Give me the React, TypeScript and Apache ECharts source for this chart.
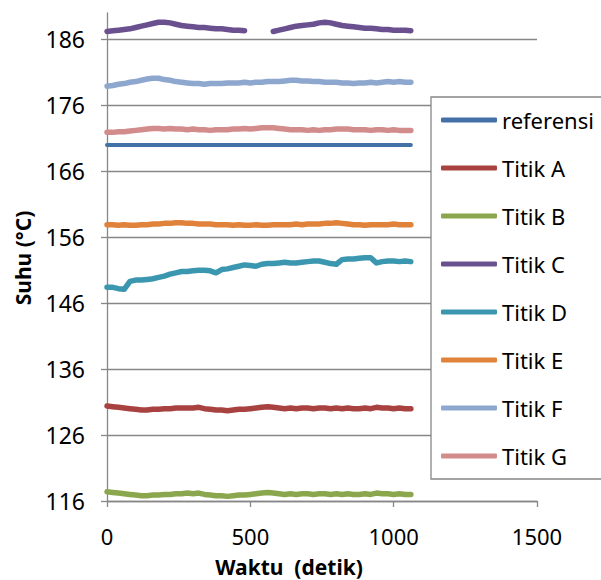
import React, { useEffect, useRef } from "react";
import * as echarts from "echarts";

const time = [
  0, 20, 40, 60, 80, 100, 120, 140, 160, 180, 200, 220, 240, 260, 280, 300, 320, 340,
  360, 380, 400, 420, 440, 460, 480, 500, 520, 540, 560, 580, 600, 620, 640, 660, 680,
  700, 720, 740, 760, 780, 800, 820, 840, 860, 880, 900, 920, 940, 960, 980, 1000, 1020,
  1040, 1060,
];

const refTime = [0, 1060];
const referensi = [170, 170];

const titikA = [
  130.4, 130.3, 130.2, 130.1, 130.0, 129.9, 129.8, 129.8, 129.9, 129.9, 130.0, 130.0, 130.1,
  130.1, 130.1, 130.1, 130.2, 130.0, 129.9, 129.8, 129.8, 129.7, 129.8, 129.9, 129.9, 130.0,
  130.1, 130.2, 130.3, 130.2, 130.1, 130.0, 130.1, 130.0, 130.1, 130.1, 130.0, 130.1, 130.1,
  130.0, 130.1, 130.0, 130.1, 130.0, 130.0, 130.1, 130.0, 130.2, 130.1, 130.1, 130.0, 130.1,
  130.0, 130.0,
];

const titikB = [
  117.4, 117.3, 117.2, 117.1, 117.0, 116.9, 116.8, 116.8, 116.9, 116.9, 117.0, 117.0, 117.1,
  117.1, 117.2, 117.1, 117.2, 117.0, 116.9, 116.8, 116.8, 116.7, 116.8, 116.9, 116.9, 117.0,
  117.1, 117.2, 117.3, 117.2, 117.1, 117.0, 117.1, 117.0, 117.1, 117.1, 117.0, 117.1, 117.1,
  117.0, 117.1, 117.0, 117.1, 117.0, 117.0, 117.1, 117.0, 117.2, 117.1, 117.1, 117.0, 117.1,
  117.0, 117.0,
];

const titikC = [
  187.2, 187.3, 187.4, 187.5, 187.6, 187.8, 188.0, 188.2, 188.4, 188.6, 188.6, 188.5, 188.3,
  188.1, 188.0, 187.9, 187.8, 187.8, 187.7, 187.6, 187.6, 187.5, 187.4, 187.4, 187.3, null,
  null, null, null, 187.2, 187.4, 187.6, 187.8, 188.0, 188.1, 188.2, 188.3, 188.5, 188.6,
  188.5, 188.3, 188.1, 188.0, 187.9, 187.8, 187.7, 187.7, 187.6, 187.5, 187.5, 187.4, 187.4,
  187.4, 187.3,
];

const titikD = [
  148.4, 148.4, 148.2, 148.1, 149.3, 149.5, 149.5, 149.6, 149.7, 149.9, 150.1, 150.4, 150.6,
  150.8, 150.8, 150.9, 151.0, 151.0, 150.9, 150.6, 151.1, 151.2, 151.4, 151.6, 151.8, 151.7,
  151.6, 151.9, 152.0, 152.0, 152.1, 152.2, 152.1, 152.1, 152.2, 152.3, 152.4, 152.4, 152.2,
  152.0, 151.9, 152.6, 152.7, 152.7, 152.8, 152.9, 152.9, 152.1, 152.3, 152.4, 152.4, 152.3,
  152.4, 152.3,
];

const titikE = [
  157.9, 157.9, 157.8, 157.9, 157.8, 157.8, 157.9, 157.9, 158.0, 158.0, 158.1, 158.1, 158.2,
  158.2, 158.1, 158.1, 158.0, 158.0, 158.0, 157.9, 157.9, 157.9, 157.8, 157.9, 157.8, 157.8,
  157.9, 157.8, 157.8, 157.9, 157.9, 157.9, 157.9, 158.0, 157.9, 158.0, 158.0, 158.0, 158.1,
  158.1, 158.2, 158.1, 158.0, 157.9, 157.9, 157.8, 157.9, 157.9, 157.9, 157.9, 158.0, 157.9,
  157.9, 157.9,
];

const titikF = [
  178.9, 179.0, 179.2, 179.3, 179.5, 179.6, 179.8, 180.0, 180.1, 180.1, 179.9, 179.8, 179.6,
  179.5, 179.4, 179.3, 179.3, 179.2, 179.3, 179.3, 179.3, 179.4, 179.4, 179.4, 179.5, 179.4,
  179.5, 179.5, 179.6, 179.6, 179.6, 179.7, 179.8, 179.8, 179.7, 179.7, 179.6, 179.6, 179.5,
  179.5, 179.5, 179.4, 179.4, 179.3, 179.4, 179.4, 179.5, 179.4, 179.5, 179.6, 179.5, 179.6,
  179.5, 179.5,
];

const titikG = [
  171.9, 171.9, 172.0, 172.0, 172.1, 172.2, 172.3, 172.4, 172.5, 172.5, 172.4, 172.5, 172.4,
  172.4, 172.3, 172.4, 172.3, 172.3, 172.2, 172.3, 172.3, 172.3, 172.4, 172.4, 172.5, 172.4,
  172.5, 172.6, 172.6, 172.6, 172.5, 172.4, 172.3, 172.3, 172.3, 172.2, 172.3, 172.2, 172.3,
  172.3, 172.4, 172.4, 172.4, 172.3, 172.3, 172.3, 172.2, 172.3, 172.3, 172.2, 172.3, 172.2,
  172.2, 172.2,
];

const yTicks = [116, 126, 136, 146, 156, 166, 176, 186];

const seriesNames = ["referensi", "Titik A", "Titik B", "Titik C", "Titik D", "Titik E", "Titik F", "Titik G"];
const seriesColors = ["#4470A8", "#A84240", "#8AA74E", "#6B5090", "#3B97B0", "#E0823A", "#8EA7CE", "#D28C8B"];

const FONT = "'Noto Sans', sans-serif";
const AXIS_COLOR = "#878787";

export default function App() {
  const ref = useRef<HTMLDivElement>(null);

  useEffect(() => {
    if (!ref.current) return;
    const chart = echarts.init(ref.current, null, { renderer: "svg" });

    const pair = (xs: number[], ys: (number | null)[]) => xs.map((x, i) => [x, ys[i]]);
    const datasets = [
      pair(refTime, referensi),
      pair(time, titikA),
      pair(time, titikB),
      pair(time, titikC),
      pair(time, titikD),
      pair(time, titikE),
      pair(time, titikF),
      pair(time, titikG),
    ];

    chart.setOption({
      animation: false,
      backgroundColor: "#ffffff",
      textStyle: { fontFamily: FONT },
      grid: { left: 107, right: 64, top: 13, bottom: 79, containLabel: false },
      xAxis: {
        type: "value",
        min: 0,
        max: 1500,
        interval: 500,
        axisLine: { show: true, lineStyle: { color: AXIS_COLOR, width: 1.3 } },
        axisTick: { show: true, length: 6, lineStyle: { color: AXIS_COLOR, width: 1.3 } },
        axisLabel: {
          color: "#000",
          fontSize: 22,
          fontFamily: FONT,
          margin: 24,
          formatter: (v: number) => String(v),
        },
        splitLine: { show: false },
      },
      yAxis: {
        type: "value",
        min: 116,
        max: 190,
        axisLine: { show: true, lineStyle: { color: AXIS_COLOR, width: 1.3 } },
        axisTick: {
          show: true,
          length: 6,
          customValues: yTicks,
          lineStyle: { color: AXIS_COLOR, width: 1.3 },
        },
        axisLabel: {
          color: "#000",
          fontSize: 23,
          fontFamily: FONT,
          margin: 22,
          customValues: yTicks,
        },
        splitLine: { show: true, lineStyle: { color: AXIS_COLOR, width: 1.3 } },
      },
      legend: {
        orient: "vertical",
        left: 431,
        top: 97,
        data: seriesNames,
        icon: "roundRect",
        itemWidth: 56,
        itemHeight: 5,
        itemGap: 22,
        padding: [10, 30, 10, 10],
        backgroundColor: "#ffffff",
        borderColor: AXIS_COLOR,
        borderWidth: 1.3,
        borderRadius: 0,
        textStyle: { color: "#000", fontSize: 22, fontFamily: FONT, lineHeight: 26 },
        z: 10,
      },
      graphic: [
        {
          type: "text",
          x: 23,
          y: 258,
          rotation: Math.PI / 2,
          style: {
            text: "Suhu (°C)",
            fill: "#000",
            font: `bold 21px ${FONT}`,
            align: "center",
            verticalAlign: "middle",
          },
        },
        {
          type: "text",
          x: 289,
          y: 567,
          style: {
            text: "Waktu  (detik)",
            fill: "#000",
            font: `bold 21px ${FONT}`,
            align: "center",
            verticalAlign: "middle",
          },
        },
      ],
      series: seriesNames.map((name, i) => ({
        name,
        type: "line",
        data: datasets[i],
        showSymbol: false,
        symbol: "none",
        connectNulls: false,
        smooth: false,
        color: seriesColors[i],
        lineStyle: { color: seriesColors[i], width: i === 0 ? 4 : 5.5, cap: "round", join: "round" },
        z: 3,
      })),
    });

    return () => chart.dispose();
  }, []);

  return (
    <div
      ref={ref}
      style={{ position: "fixed", left: 0, top: 0, width: 601, height: 580, background: "#fff" }}
    />
  );
}
